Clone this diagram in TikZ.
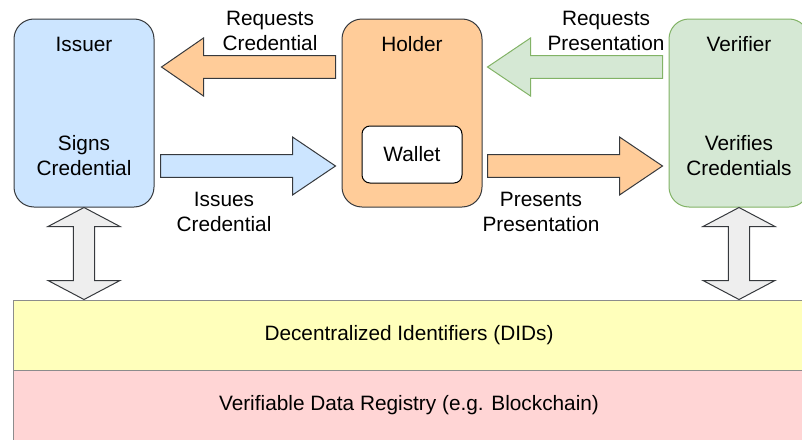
\documentclass[tikz,border=0pt]{standalone}
\usepackage{fontspec}
\setmainfont{Liberation Sans}
\usetikzlibrary{calc,positioning}

\definecolor{issuerfill}{HTML}{CCE5FF}
\definecolor{holderfill}{HTML}{FFCC99}
\definecolor{verifierfill}{HTML}{D5E8D4}
\definecolor{verifierline}{HTML}{82B366}
\definecolor{darkline}{HTML}{36393D}
\definecolor{didfill}{HTML}{FFFFBB}
\definecolor{registryfill}{HTML}{FFD5D5}
\definecolor{layerline}{HTML}{8C8C8C}
\definecolor{greyfill}{HTML}{EEEEEE}

\tikzset{
	role box/.style={
		draw=darkline,
		line width=0.75pt,
		rounded corners=15pt,
		minimum width=105pt,
		minimum height=141pt,
		inner sep=0pt,
	},
	wallet box/.style={
		draw=black,
		fill=white,
		line width=0.75pt,
		rounded corners=6pt,
		minimum width=75pt,
		minimum height=42.75pt,
	},
	layer/.style={
		draw=layerline,
		line width=0.75pt,
		minimum width=594pt,
		minimum height=52.5pt,
	},
	caption/.style={align=center, inner sep=0pt},
	fat/.style={line width=0.75pt, draw=darkline, line join=miter},
}

% block arrow: style, from, to, half shaft, half head, head length
\newcommand{\fatarrow}[6]{%
	\coordinate (fa-h) at ($(#3)!#6!(#2)$);
	\draw[fat,#1]
	($(#2)!#4!90:(#3)$) --
	($(fa-h)!#4!90:(#3)$) --
	($(fa-h)!#5!90:(#3)$) --
	(#3) --
	($(fa-h)!#5!-90:(#3)$) --
	($(fa-h)!#4!-90:(#3)$) --
	($(#2)!#4!-90:(#3)$) -- cycle;
}

% same with a head at both ends
\newcommand{\fatdarrow}[6]{%
	\coordinate (fa-a) at ($(#2)!#6!(#3)$);
	\coordinate (fa-b) at ($(#3)!#6!(#2)$);
	\draw[fat,#1]
	(#2) --
	($(fa-a)!#5!90:(#3)$) --
	($(fa-a)!#4!90:(#3)$) --
	($(fa-b)!#4!90:(#3)$) --
	($(fa-b)!#5!90:(#3)$) --
	(#3) --
	($(fa-b)!#5!-90:(#3)$) --
	($(fa-b)!#4!-90:(#3)$) --
	($(fa-a)!#4!-90:(#3)$) --
	($(fa-a)!#5!-90:(#3)$) -- cycle;
}

\begin{document}
\begin{tikzpicture}[x=0.75pt, y=-0.75pt, every node/.append style={font=\fontsize{15.6}{18.75}\selectfont}]
\clip (0,0) rectangle (802,439);

% layers
\node[layer, fill=didfill] (did) at (409,335) {Decentralized Identifiers (DIDs)};
\node[layer, fill=registryfill] (registry) at (409,405) {Verifiable Data Registry (e.g. Blockchain)};

% roles
\node[role box, fill=issuerfill] (issuer) at (84,113) {};
\node[role box, fill=holderfill] (holder) at (412,113) {};
\node[role box, fill=verifierfill, draw=verifierline] (verifier) at (739,113) {};
\node[wallet box] (wallet) at (412,154.5) {Wallet};

\node[caption] (issuer-t) at (84,44) {Issuer};
\node[caption] (holder-t) at (412,44) {Holder};
\node[caption] (verifier-t) at (739,44) {Verifier};
\node[caption] (signs) at (84,155.5) {Signs\\Credential};
\node[caption] (verifies) at (739,155.5) {Verifies\\Credentials};

% ends of the flows
\coordinate (iss-up) at ($(issuer.east)+(7,-46)$);
\coordinate (iss-lo) at ($(issuer.east)+(6,53)$);
\coordinate (hol-upl) at ($(holder.west)+(-6,-46)$);
\coordinate (hol-lol) at ($(holder.west)+(-6,53)$);
\coordinate (hol-upr) at ($(holder.east)+(5,-46)$);
\coordinate (hol-lor) at ($(holder.east)+(5,53)$);
\coordinate (ver-up) at ($(verifier.west)+(-6,-46)$);
\coordinate (ver-lo) at ($(verifier.west)+(-6,53)$);
\coordinate (iss-did) at (issuer.south |- did.north);
\coordinate (ver-did) at (verifier.south |- did.north);

\fatarrow{fill=holderfill}{hol-upl}{iss-up}{8.6pt}{21.75pt}{31.5pt}
\fatarrow{fill=issuerfill}{iss-lo}{hol-lol}{8.6pt}{21.75pt}{32.25pt}
\fatarrow{fill=verifierfill, draw=verifierline}{ver-up}{hol-upr}{8.6pt}{21.75pt}{32.25pt}
\fatarrow{fill=holderfill}{hol-lor}{ver-lo}{8.6pt}{21.75pt}{32.25pt}

\fatdarrow{fill=greyfill}{issuer.south}{iss-did}{8pt}{27pt}{14.25pt}
\fatdarrow{fill=greyfill}{verifier.south}{ver-did}{8pt}{27pt}{14.25pt}

% flow captions
\node[caption] (req-cred) at (270,30.5) {Requests\\Credential};
\node[caption] (iss-cred) at (224,212) {Issues\\Credential};
\node[caption] (req-pres) at (606,30.5) {Requests\\Presentation};
\node[caption] (pres-pres) at (541,212) {Presents\\Presentation};

\end{tikzpicture}
\end{document}
